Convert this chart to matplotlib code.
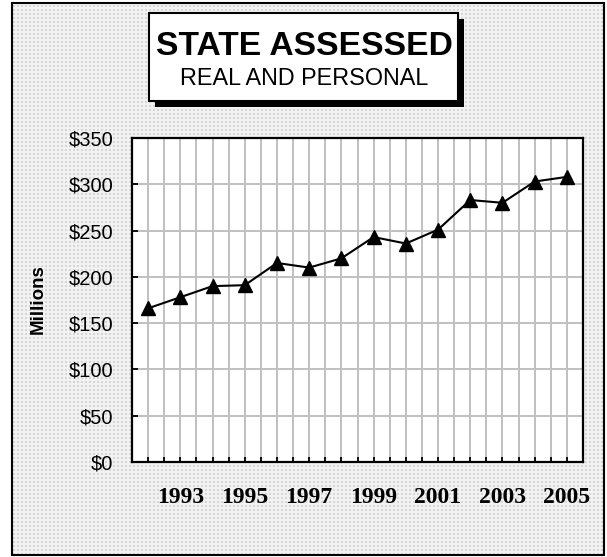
import numpy as np
import matplotlib
matplotlib.use("Agg")
import matplotlib.pyplot as plt
from matplotlib.patches import Rectangle

# assessed value by year, millions of dollars
years = list(range(1992, 2006))
values = [166, 178, 190, 191, 215, 210, 220, 243, 236, 251, 283, 280, 303, 308]
label_years = [1993, 1995, 1997, 1999, 2001, 2003, 2005]
y_ticks = [0, 50, 100, 150, 200, 250, 300, 350]

W, H = 607, 557
fig = plt.figure(figsize=(W / 100, H / 100), dpi=100)
fig.patch.set_facecolor("white")


def fx(x):
    return x / W


def fy(y):
    return 1 - y / H


# dotted grey backdrop inside the outer frame
bg = np.ones((H, W, 3))
tile = np.full((4, 4), 0.95)
tile[1:3, 1:3] = 0.84
pat = np.tile(tile, (H // 4 + 1, W // 4 + 1))[:H, :W]
x0, y0, x1, y1 = 12, 3, 604, 555
bg[y0:y1, x0:x1, :] = pat[y0:y1, x0:x1, None]
fig.figimage(bg, xo=0, yo=0, origin="upper", zorder=-10)

fig.patches.append(Rectangle((fx(x0), fy(y1)), fx(x1) - fx(x0), fy(y0) - fy(y1),
                             transform=fig.transFigure, fill=False,
                             edgecolor="black", linewidth=1.5, zorder=1))

# title box with drop shadow
fig.patches.append(Rectangle((fx(155), fy(107)), fx(464) - fx(155), fy(19) - fy(107),
                             transform=fig.transFigure, facecolor="black",
                             edgecolor="none", zorder=2))
fig.patches.append(Rectangle((fx(149), fy(101)), fx(458) - fx(149), fy(13) - fy(101),
                             transform=fig.transFigure, facecolor="white",
                             edgecolor="black", linewidth=1.5, zorder=3))
fig.text(fx(304), fy(55), "STATE ASSESSED", ha="center", va="baseline",
         fontsize=24.2, fontweight="bold", family="Liberation Sans", zorder=4)
fig.text(fx(304), fy(85), "REAL AND PERSONAL", ha="center", va="baseline",
         fontsize=16.8, family="Liberation Sans", zorder=4)

ax = fig.add_axes([fx(132), fy(462), fx(583) - fx(132), fy(138) - fy(462)])
ax.set_zorder(5)
ax.set_facecolor("white")

x = np.arange(len(years))
ax.plot(x, values, color="black", linewidth=1.5, marker="^", markersize=10.5,
        zorder=5, clip_on=False)

ax.set_xlim(-0.5, len(years) - 0.5)
ax.set_ylim(0, 350)

ax.set_xticks([years.index(y) for y in label_years])
ax.set_xticklabels([str(y) for y in label_years], family="Liberation Serif",
                   fontweight="bold", fontsize=17)
ax.set_xticks(np.arange(-0.5, len(years), 0.5), minor=True)
ax.tick_params(axis="x", which="both", direction="in", length=3.5, width=1.3,
               pad=18)

ax.set_yticks(y_ticks)
ax.set_yticklabels(["$%d" % v for v in y_ticks], family="Liberation Sans",
                   fontsize=14.5)
ax.tick_params(axis="y", direction="in", length=4.5, width=1.3, pad=13.5)

ax.grid(True, which="both", axis="x", color="#c0c0c0", linewidth=1.4, zorder=1)
ax.grid(True, which="major", axis="y", color="#c0c0c0", linewidth=1.4, zorder=1)
ax.set_axisbelow(True)
for s in ax.spines.values():
    s.set_linewidth(1.6)
    s.set_zorder(6)

fig.text(fx(38), fy(299), "Millions", rotation=90, ha="center", va="center",
         fontsize=13.5, fontweight="bold", family="Liberation Sans")

fig.savefig("out.png", dpi=100)
